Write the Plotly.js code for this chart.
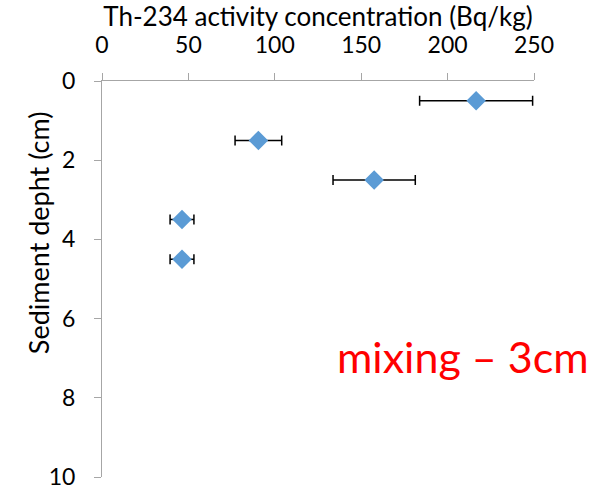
<!DOCTYPE html>
<html>
<head>
<meta charset="utf-8">
<script src="https://cdn.plot.ly/plotly-3.0.1.min.js"></script>
<style>html,body{margin:0;padding:0;background:#fff;}#chart{width:602px;height:493px;}</style>
</head>
<body>
<div id="chart"></div>
<script>
const depth = [0.5, 1.5, 2.5, 3.5, 4.5];
const activity = [216.5, 90.5, 157.5, 46.3, 46.3];
const activityErr = [32.7, 13.5, 23.8, 6.9, 6.9];
const xTicks = [0, 50, 100, 150, 200, 250];
const yTicks = [0, 2, 4, 6, 8, 10];
const xTitle = 'Th-234 activity concentration (Bq/kg)';
const yTitle = 'Sediment depht (cm)';
const note = 'mixing – 3cm';

const FONT = 'Lato, "Open Sans", sans-serif';
const AX = '#A6A6A6';

const trace = {
  type: 'scatter', mode: 'markers',
  x: activity, y: depth,
  marker: {symbol: 'diamond', size: 15, color: '#5B9BD5'},
  error_x: {type: 'data', array: activityErr, symmetric: true, color: '#000', thickness: 1.5, width: 5},
  hoverinfo: 'x+y'
};

const layout = {
  width: 602, height: 493,
  margin: {l: 102, r: 68, t: 81, b: 16},
  paper_bgcolor: '#fff', plot_bgcolor: '#fff',
  showlegend: false,
  font: {family: FONT, color: '#000'},
  xaxis: {
    side: 'top', range: [0, 250], tickvals: xTicks, ticktext: xTicks.map(String),
    showgrid: false, zeroline: false, showline: true, linecolor: AX, linewidth: 1,
    ticks: 'outside', ticklen: 7, tickcolor: AX, tickwidth: 1,
    tickfont: {size: 23, family: FONT, color: '#000'}, ticklabelstandoff: 11,
    title: {text: xTitle, font: {size: 26, family: FONT, color: '#000'}, standoff: 4}
  },
  yaxis: {
    range: [10, 0], tickvals: yTicks, ticktext: yTicks.map(String),
    showgrid: false, zeroline: false, showline: true, linecolor: AX, linewidth: 1,
    ticks: 'outside', ticklen: 7, tickcolor: AX, tickwidth: 1,
    tickfont: {size: 23, family: FONT, color: '#000'}, ticklabelstandoff: 14
  },
  annotations: [{
    xref: 'paper', yref: 'paper', x: -0.148, y: 0.616,
    xanchor: 'center', yanchor: 'middle', showarrow: false, textangle: -90,
    text: yTitle, font: {size: 27, family: FONT, color: '#000'}
  }, {
    xref: 'paper', yref: 'paper', x: 0.836, y: 0.305,
    xanchor: 'center', yanchor: 'middle', showarrow: false,
    text: note, font: {size: 43, family: FONT, color: '#FF0000'}
  }]
};

Plotly.newPlot('chart', [trace], layout, {displayModeBar: false, staticPlot: true});
</script>
</body>
</html>
